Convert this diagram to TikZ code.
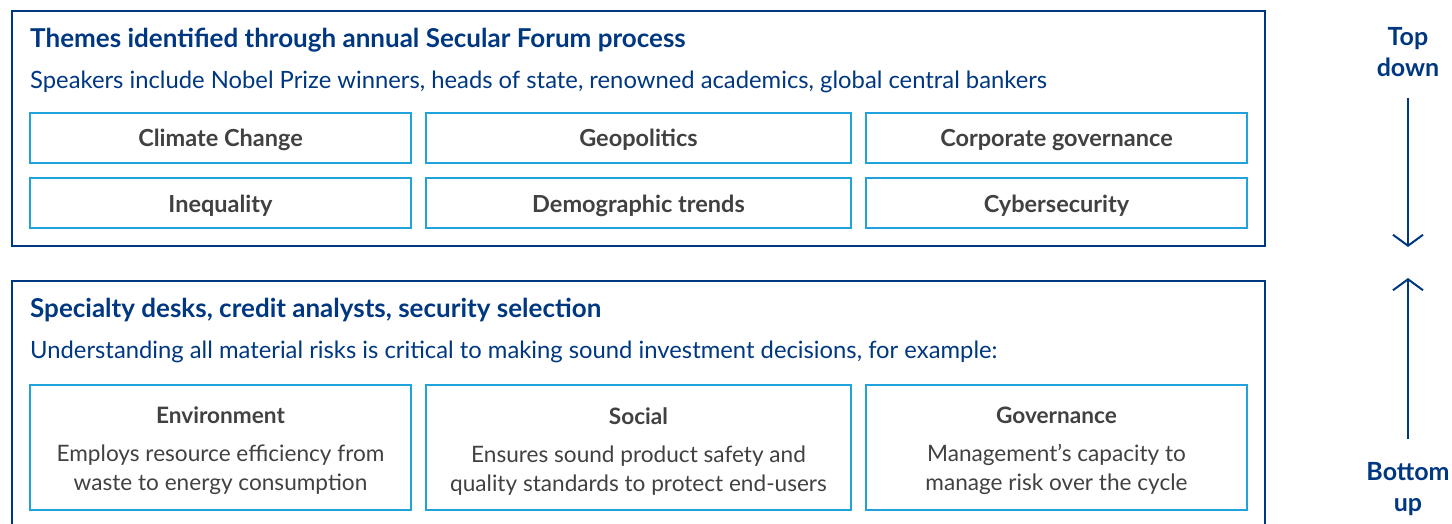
\documentclass[tikz,border=0pt]{standalone}
\usepackage{fontspec}
\setmainfont{Lato}
\usetikzlibrary{arrows.meta}
\definecolor{navy}{HTML}{003781}
\definecolor{sky}{HTML}{1FA3DA}
\definecolor{ink}{HTML}{414141}
\tikzset{
  frame/.style={draw=navy, line width=2pt},
  headline/.style={anchor=base west, inner sep=0pt, text=navy, font=\fontsize{26}{30}\selectfont\bfseries},
  subline/.style={anchor=base west, inner sep=0pt, text=navy, font=\fontsize{23.8}{28}\selectfont},
  theme/.style={draw=sky, line width=2.5pt, minimum height=50pt, inner sep=0pt, text height=22pt, text depth=4pt, text=ink, font=\fontsize{23.5}{28}\selectfont\bfseries},
  pillar/.style={draw=sky, line width=2.5pt, minimum height=125pt, inner sep=0pt, text=ink, align=center, font=\fontsize{22.6}{29}\selectfont},
  side/.style={text=navy, align=center, inner sep=0pt, font=\fontsize{25}{31}\selectfont\bfseries},
}
\newcommand{\pillarhead}[1]{\rule{0pt}{24pt}\textbf{#1}}
\begin{document}
\begin{tikzpicture}[x=1pt, y=-1pt, >={Straight Barb[length=11pt, width=30pt, line width=2pt]}]
  \useasboundingbox (0,0) rectangle (1452,524);
  % top block
  \draw[frame] (12,11) rectangle (1265,246);
  \node[headline] (toptitle) at (30,48) {Themes identified through annual Secular Forum process};
  \node[subline] (topsub) at (30,89) {Speakers include Nobel Prize winners, heads of state, renowned academics, global central bankers};
  \foreach \name/\x/\w/\y/\txt in {climate/220.5/381/138/Climate Change, geo/638.5/425/138/Geopolitics, gov/1056.5/381/138/Corporate governance,
      inequal/220.5/381/203/Inequality, demo/638.5/425/203/Demographic trends, cyber/1056.5/381/203/Cybersecurity}
    \node[theme, minimum width=\w pt] (\name) at (\x,\y) {\txt};
  % bottom block, cut off below
  \draw[frame] (12,540) -- (12,281) -- (1265,281) -- (1265,540);
  \node[headline] (bottitle) at (30,317) {Specialty desks, credit analysts, security selection};
  \node[subline] (botsub) at (30,358) {Understanding all material risks is critical to making sound investment decisions, for example:};
  \node[pillar, minimum width=381pt] (env) at (220.5,447.5) {\pillarhead{Environment}\\[9pt]Employs resource efficiency from\\waste to energy consumption};
  \node[pillar, minimum width=425pt] (soc) at (638.5,447.5) {\pillarhead{Social}\\[9pt]Ensures sound product safety and\\quality standards to protect end-users};
  \node[pillar, minimum width=381pt] (gvn) at (1056.5,447.5) {\pillarhead{Governance}\\[9pt]Management’s capacity to\\manage risk over the cycle};
  % direction arrows
  \node[side, anchor=north] (topdown) at (1408,27) {Top\\down};
  \node[side, anchor=south] (bottomup) at (1408,516) {Bottom\\up};
  \coordinate (downtip) at (1408,247);
  \coordinate (uptip) at (1408,278);
  \draw[->, navy, line width=2.5pt, shorten <=21pt] (topdown.south) -- (downtip);
  \draw[->, navy, line width=2.5pt, shorten <=23pt] (bottomup.north) -- (uptip);
\end{tikzpicture}
\end{document}
